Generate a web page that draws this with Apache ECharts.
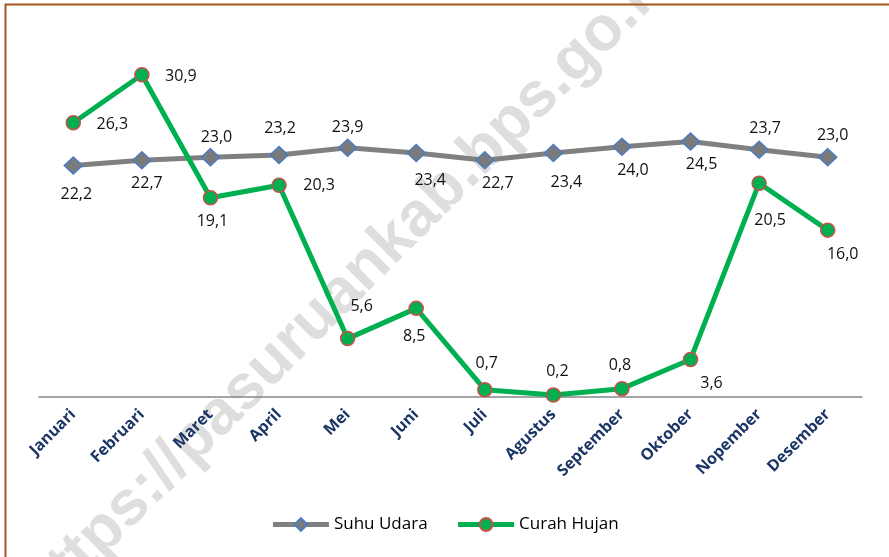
<!DOCTYPE html>
<html>
<head>
<meta charset="utf-8">
<title>Suhu Udara dan Curah Hujan</title>
<script src="https://cdn.jsdelivr.net/npm/echarts@6/dist/echarts.min.js"></script>
<style>
    html,body{margin:0;padding:0;background:#fff;}
    #chart{width:889px;height:557px;}
</style>
</head>
<body>
<div id="chart"></div>
<script>
"use strict";
/*data*/
let bulan = ['Januari','Februari','Maret','April','Mei','Juni','Juli','Agustus','September','Oktober','Nopember','Desember'];
let suhuUdara = [22.2,22.7,23.0,23.2,23.9,23.4,22.7,23.4,24.0,24.5,23.7,23.0];
let curahHujan = [26.3,30.9,19.1,20.3,5.6,8.5,0.7,0.2,0.8,3.6,20.5,16.0];

/*label offsets (dx,dy from point)*/
let suhuLabelOffset = [[3,29],[5,23],[6,-20],[1,-27],[0,-20],[14,27],[13,23],[13,29],[11,24],[11,23],[6,-21],[5,-22]];
let hujanLabelOffset = [[39,2],[39,2],[2,24],[40,0],[14,-32],[-2,28],[2,-26],[4,-23],[-2,-23],[21,24],[11,37],[15,24]];

let fmt = p => p.value.toFixed(1).replace('.', ',');

let chart = echarts.init(document.getElementById('chart'));
let option = {
    animation:false,
    textStyle:{fontFamily:'Open Sans'},
    graphic:[
        {
            type:'text',
            x:350,
            y:285,
            rotation:Math.PI/4,
            z:0,
            silent:true,
            style:{
                text:'https://pasuruankab.bps.go.id',
                font:'bold 63px "Liberation Sans"',
                fill:'#dedede',
                align:'center',
                verticalAlign:'middle'
            }
        },
        {
            type:'polyline',
            z:10,
            silent:true,
            shape:{points:[[5.5,557],[5.5,4.5],[889,4.5]]},
            style:{stroke:'#a5541e',lineWidth:2,fill:null}
        }
    ],
    grid:{
        left:39,
        right:27,
        top:32,
        bottom:160
    },
    legend:{
        bottom:19,
        left:'center',
        itemWidth:56,
        itemHeight:16,
        itemGap:28,
        lineStyle:{width:5},
        textStyle:{
            fontSize:17,
            color:'#000'
        },
        data:['Suhu Udara','Curah Hujan']
    },
    xAxis:{
        type:'category',
        data:bulan,
        axisLine:{lineStyle:{color:'#868686',width:1.5}},
        axisTick:{length:5,lineStyle:{color:'#868686',width:1.5}},
        axisLabel:{
            interval:0,
            rotate:45,
            margin:15,
            fontSize:16,
            fontWeight:'bold',
            color:'#1b3566'
        }
    },
    yAxis:{
        type:'value',
        min:0,
        max:35,
        show:false,
        splitLine:{show:false}
    },
    series:[
        {
            type:'line',
            name:'Suhu Udara',
            symbol:'diamond',
            symbolSize:[18,17],
            lineStyle:{color:'#808080',width:5},
            itemStyle:{color:'#7a7a7a',borderColor:'#4a7cc4',borderWidth:1.5},
            label:{
                show:true,
                position:'inside',
                fontSize:16,
                color:'#111',
                formatter:fmt
            },
            data:suhuUdara.map((v,i)=>({value:v,label:{offset:suhuLabelOffset[i]}}))
        },
        {
            type:'line',
            name:'Curah Hujan',
            symbol:'circle',
            symbolSize:14,
            lineStyle:{color:'#00b050',width:5},
            itemStyle:{color:'#00b050',borderColor:'#c8504d',borderWidth:1.5},
            label:{
                show:true,
                position:'inside',
                fontSize:16,
                color:'#111',
                formatter:fmt
            },
            data:curahHujan.map((v,i)=>({value:v,label:{offset:hujanLabelOffset[i]}}))
        }
    ]
};
chart.setOption(option);
</script>
</body>
</html>
